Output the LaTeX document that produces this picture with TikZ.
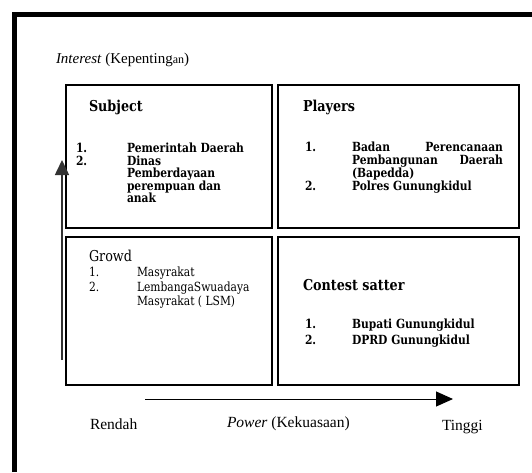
\documentclass[tikz,border=0pt]{standalone}
\usepackage{fontspec}
\setmainfont{Liberation Serif}
\newfontfamily\boxfont[FakeStretch=0.85]{DejaVu Serif}
\usetikzlibrary{arrows.meta}
\tikzset{
  every node/.style = {inner sep=0pt, outer sep=0pt},
  shframe/.style   = {line width=5pt},
  shbox/.style     = {draw, line width=2.6pt, anchor=north west, minimum height=143pt},
  shtitle/.style   = {anchor=west, font=\boxfont\fontsize{15}{17}\selectfont\bfseries},
  shtitlerm/.style = {anchor=west, font=\boxfont\fontsize{15}{17}\selectfont},
  shlist/.style    = {anchor=north west, align=left, font=\boxfont\fontsize{12.6}{#1}\selectfont\bfseries},
  shlistrm/.style  = {anchor=north west, align=left, font=\boxfont\fontsize{12.6}{#1}\selectfont},
  shaxis/.style    = {anchor=west, font=\fontsize{15.5}{18}\selectfont},
  shvarrow/.style  = {-{Triangle[length=15pt,width=14pt]}, line width=1.6pt, draw=black!80},
  shharrow/.style  = {-{Triangle[length=17pt,width=15pt]}, line width=1pt},
}

\begin{document}
\begin{tikzpicture}[x=1pt, y=-1pt]
\useasboundingbox (0,0) rectangle (532,472);

% outer frame
\coordinate (fbot) at (14,472);
\coordinate (fcor) at (14,14);
\coordinate (frgt) at (532,14);
\draw[shframe] (fbot) -- (fcor) -- (frgt);

\node[shaxis, font=\fontsize{15}{17}\selectfont] (intr) at (56,60)
  {\textit{Interest} (Kepenting{\fontsize{12}{14}\selectfont an})};

% quadrants
\node[shbox, minimum width=206pt] (subj) at (66,85) {};
\node[shbox, minimum width=241pt] (play) at (278,85) {};
\node[shbox, minimum width=206pt, minimum height=148pt] (grow) at (66,237) {};
\node[shbox, minimum width=241pt, minimum height=148pt] (cont) at (278,237) {};

% Subject
\node[shtitle] (subjt) at (89,107) {Subject};
\node[shlist=12.5] (subjn) at (76,143.4) {1.\\2.};
\node[shlist=12.5] (subji) at (127,143.2)
  {Pemerintah Daerah\\Dinas\\Pemberdayaan\\perempuan dan\\anak};

% Players
\node[shtitle] (playt) at (303,107) {Players};
\node[shlist=13] (playn1) at (305,142.4) {1.};
\node[shlist=13] (playn2) at (305,181.4) {2.};
\node[shlist=13] (playi) at (352,142.2)
  {\makebox[151pt][s]{Badan Perencanaan}\\
   \makebox[151pt][s]{Pembangunan Daerah}\\
   (Bapedda)\\Polres Gunungkidul};

% Growd
\node[shtitlerm] (growt) at (89,256) {Growd};
\node[shlistrm=14.5] (grown) at (89,267.4) {1.\\2.};
\node[shlistrm=14.5] (growi) at (137,267.2)
  {Masyrakat\\LembangaSwuadaya\\Masyrakat ( LSM)};

% Contest satter
\node[shtitle] (contt) at (303,285) {Contest satter};
\node[shlist=16] (contn) at (305,319.4) {1.\\2.};
\node[shlist=16] (conti) at (352,319.2) {Bupati Gunungkidul\\DPRD Gunungkidul};

% axes
\coordinate (vtail) at (62,360);
\coordinate (vhead) at (62,160);
\draw[shvarrow] (vtail) -- (vhead);
\coordinate (htail) at (145,399);
\coordinate (hhead) at (453,399);
\draw[shharrow] (htail) -- (hhead);

\node[shaxis] (rend) at (90,424) {Rendah};
\node[shaxis] (powr) at (227,424) {\textit{Power} (Kekuasaan)};
\node[shaxis] (ting) at (442,427) {Tinggi};
\end{tikzpicture}
\end{document}
